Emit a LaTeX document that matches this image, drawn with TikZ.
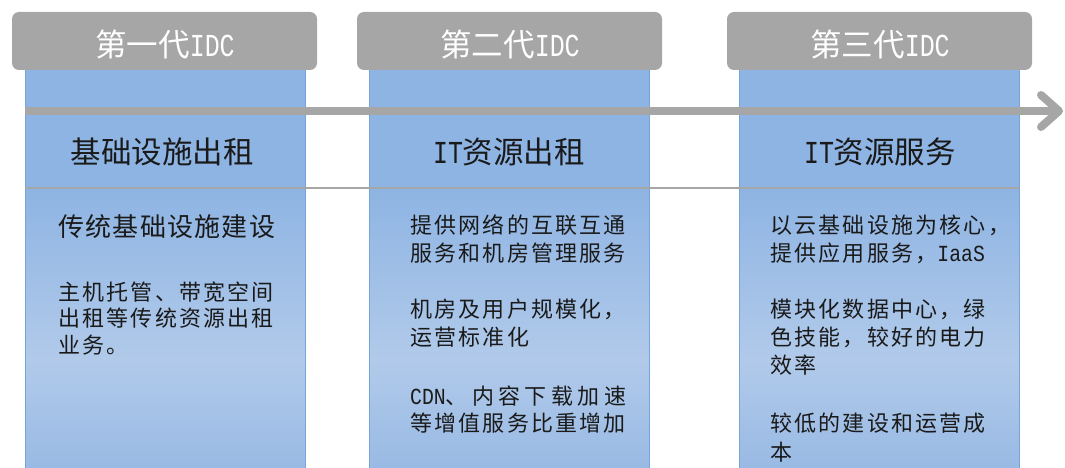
\documentclass[tikz,border=0pt]{standalone}
\usepackage{fontspec}
\usetikzlibrary{fit}
\setmainfont{Noto Sans CJK SC}
\newfontfamily\lat{Liberation Mono}[FakeStretch=0.78]
\newfontfamily\latb{Liberation Mono}[FakeStretch=0.86]
\newfontfamily\bodyf{Noto Sans CJK SC}[LetterSpace=10]
\newfontfamily\leadf{Noto Sans CJK SC}[LetterSpace=5]
\definecolor{hdrgray}{HTML}{A6A6A6}
\definecolor{blueA}{HTML}{8EB4E3}
\definecolor{blueB}{HTML}{B1CAEA}
\definecolor{blueC}{HTML}{99BAE4}
\definecolor{blueEdge}{HTML}{76A3DA}
\definecolor{txt}{HTML}{1A1A1A}
\newcommand\hlat[1]{{\lat\fontsize{32}{34}\selectfont #1}}
\newcommand\blat[1]{{\latb\fontsize{23}{26}\selectfont #1}}
\tikzset{
  hdrbox/.style={draw=none, fill=hdrgray, rounded corners=7pt, minimum width=305pt, minimum height=58pt, inner sep=0pt},
  hdrtxt/.style={text=white, font=\fontsize{31.5}{34}\selectfont, inner sep=0pt},
  subtxt/.style={text=txt, font=\fontsize{30.5}{34}\selectfont, inner sep=0pt},
  leadtxt/.style={text=txt, font=\leadf\fontsize{26}{30}\selectfont, inner sep=0pt, anchor=west},
  itemtxt/.style={text=txt, font=\bodyf\fontsize{22}{26}\selectfont, inner sep=0pt, anchor=west},
  colbox/.style={draw=blueEdge, line width=1pt, inner sep=0pt, outer sep=0pt},
  thinline/.style={draw=hdrgray, line width=2.8pt},
  thickline/.style={draw=hdrgray, line width=8pt},
  arrowhead/.style={draw=hdrgray, line width=8pt, line cap=round, line join=round}
}
\begin{document}
\begin{tikzpicture}[x=1pt,y=-1pt]
\useasboundingbox (0,0) rectangle (1065,468);
% columns
\foreach \xa/\xb/\n in {25/305/1, 369/649/2, 739/1019/3}{
  \fill[blueA] (\xa,70) rectangle (\xb,188);
  \shade[top color=blueA, bottom color=blueB] (\xa,188) rectangle (\xb,360);
  \shade[top color=blueB, bottom color=blueC] (\xa,359.5) rectangle (\xb,468);
  \node[colbox, fit={(\xa,70) (\xb,468)}] (col\n) {};
}
% lines
\coordinate (tlA) at (25,188);
\coordinate (tlB) at (1019,188);
\draw[thinline] (tlA) -- (tlB);
\coordinate (arA) at (25,111);
\coordinate (arB) at (1059,111);
\coordinate (ahU) at (1041,95);
\coordinate (ahD) at (1041,127);
\draw[thickline] (arA) -- (arB);
\draw[arrowhead] (ahU) -- (arB) -- (ahD);
% headers
\node[hdrbox] (h1) at (164.5,41) {};
\node[hdrbox] (h2) at (509.5,41) {};
\node[hdrbox] (h3) at (879.5,41) {};
\node[hdrtxt] (h1t) at (165,44) {第一代\hlat{IDC}};
\node[hdrtxt] (h2t) at (510,44) {第二代\hlat{IDC}};
\node[hdrtxt] (h3t) at (880,44) {第三代\hlat{IDC}};
% subtitles
\node[subtxt] (s1) at (162,152) {基础设施出租};
\node[subtxt] (s2) at (509,152) {\hlat{IT}资源出租};
\node[subtxt] (s3) at (880,152) {\hlat{IT}资源服务};
% column 1
\node[leadtxt] (c1a) at (58,227) {传统基础设施建设};
\node[itemtxt] (c1b) at (58,292) {主机托管、带宽空间};
\node[itemtxt] (c1c) at (58,318) {出租等传统资源出租};
\node[itemtxt] (c1d) at (58,345) {业务。};
% column 2
\node[itemtxt] (c2a) at (410,225) {提供网络的互联互通};
\node[itemtxt] (c2b) at (410,253) {服务和机房管理服务};
\node[itemtxt] (c2c) at (410,309) {机房及用户规模化，};
\node[itemtxt] (c2d) at (410,337) {运营标准化};
\node[itemtxt] (c2e) at (410,396) {\makebox[216pt][s]{\blat{CDN}、\hfill 内\hfill 容\hfill 下\hfill 载\hfill 加\hfill 速}};
\node[itemtxt] (c2f) at (410,423) {等增值服务比重增加};
% column 3
\node[itemtxt] (c3a) at (770,225) {以云基础设施为核心，};
\node[itemtxt] (c3b) at (770,253) {提供应用服务，\blat{IaaS}};
\node[itemtxt] (c3c) at (770,309) {模块化数据中心，绿};
\node[itemtxt] (c3d) at (770,337) {色技能，较好的电力};
\node[itemtxt] (c3e) at (770,365) {效率};
\node[itemtxt] (c3f) at (770,423) {较低的建设和运营成};
\node[itemtxt] (c3g) at (770,452) {本};
\end{tikzpicture}
\end{document}
